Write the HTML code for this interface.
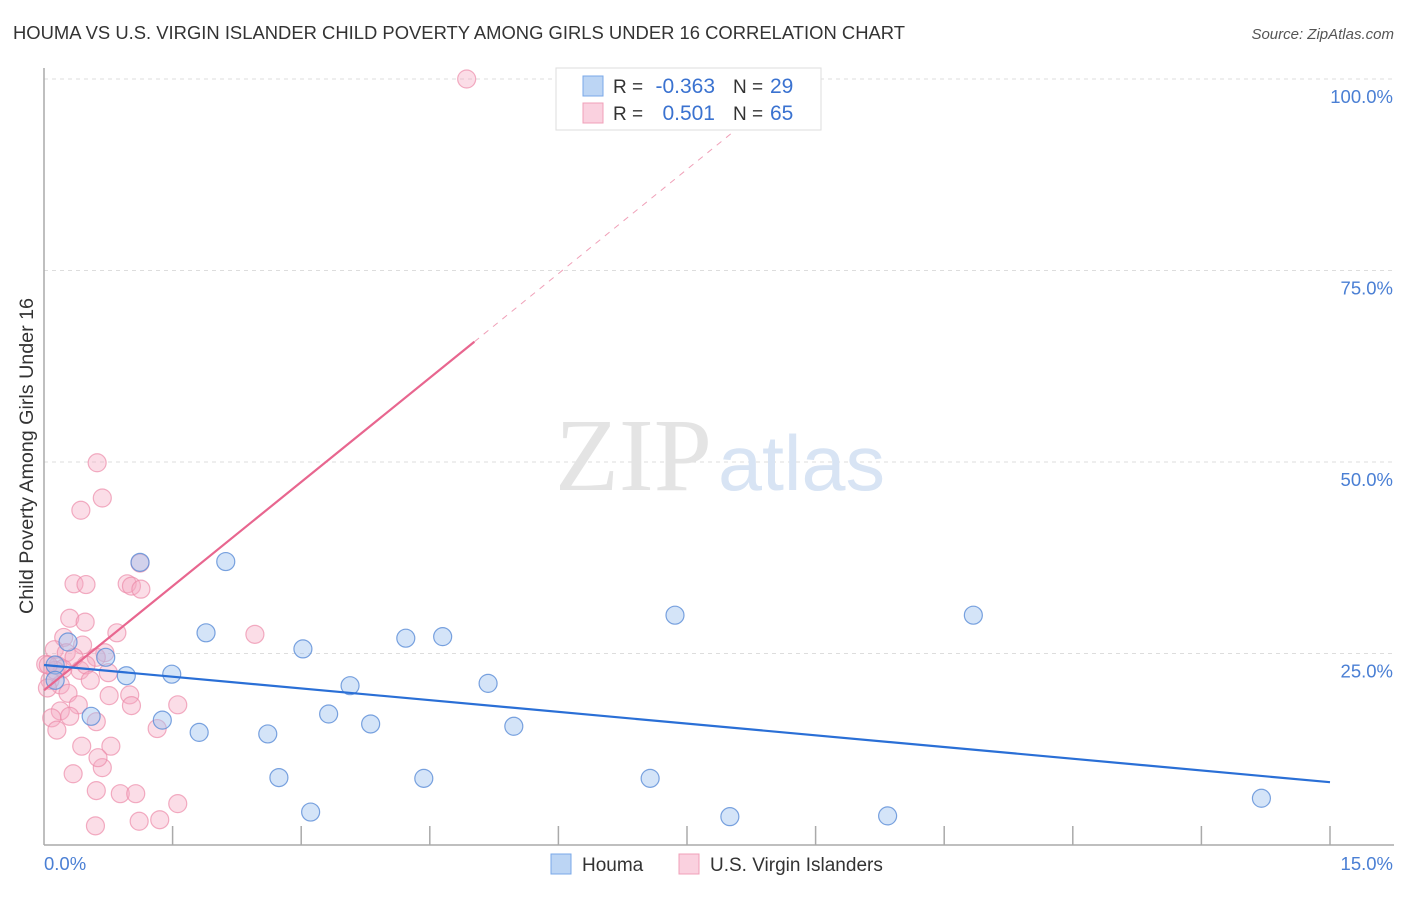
<!DOCTYPE html>
<html><head><meta charset="utf-8">
<style>
body{margin:0;background:#fff;font-family:"Liberation Sans",sans-serif;}
#wrap{position:relative;width:1406px;height:892px;}
</style></head>
<body>
<div id="wrap">
<svg id="svg" width="1406" height="892"></svg>
</div>
<script>
const blueX=[0.13,0.28,0.13,0.72,0.96,0.55,1.12,1.38,1.49,1.81,1.89,2.12,2.61,2.74,3.02,3.11,3.32,3.57,3.81,4.22,4.43,4.65,5.18,5.48,7.07,7.36,8.00,9.84,10.84,14.20];
const blueY=[23.5,26.5,21.5,24.5,22.1,16.8,36.9,16.3,22.3,14.7,27.7,37.0,14.5,8.8,25.6,4.3,17.1,20.8,15.8,27.0,8.7,27.2,21.1,15.5,8.7,30.0,3.7,3.8,30.0,6.1];
const pinkX=[4.93,0.62,0.68,0.43,1.12,0.35,0.49,0.97,1.02,1.13,0.30,0.48,0.85,2.46,0.23,0.45,0.12,0.26,0.71,0.35,0.61,0.02,0.16,0.22,0.42,0.49,0.75,0.07,0.19,0.54,0.04,0.28,0.76,1.00,1.56,1.02,0.40,0.19,0.09,0.30,0.61,1.32,0.15,0.44,0.78,0.34,0.68,0.63,0.61,0.89,1.07,1.56,0.60,1.11,1.35,0.13,0.05];
const pinkY=[100,49.9,45.3,43.7,36.8,34.1,34.0,34.1,33.8,33.4,29.6,29.1,27.7,27.5,27.1,26.1,25.5,25.1,25.1,24.5,24.5,23.6,23.4,23.0,22.8,23.5,22.5,21.5,20.9,21.5,20.5,19.8,19.5,19.6,18.3,18.2,18.3,17.5,16.6,16.8,16.1,15.2,15.0,12.9,12.9,9.3,10.1,11.4,7.1,6.7,6.7,5.4,2.5,3.1,3.3,22.8,23.5];
const blueLine=[[0,23.5],[15,8.2]];
const pinkSolid=[[0,20.2],[5.02,65.7]];
const pinkDash=[[5.02,65.7],[8.8,100]];
const yTicks=[25,50,75,100];
const xTickCount=10;

const X0=44,X1=1330,Y0=845,Y100=79;
const sx=v=>X0+(X1-X0)*v/15;
const sy=v=>Y0-(Y0-Y100)*v/100;
const NS="http://www.w3.org/2000/svg";
const svg=document.getElementById('svg');
function mk(t,a,p){const e=document.createElementNS(NS,t);for(const k in a)e.setAttribute(k,a[k]);(p||svg).appendChild(e);return e;}

let t=mk('text',{x:13,y:39,'font-size':18,fill:'#333',textLength:892,lengthAdjust:'spacingAndGlyphs'});t.textContent='HOUMA VS U.S. VIRGIN ISLANDER CHILD POVERTY AMONG GIRLS UNDER 16 CORRELATION CHART';

t=mk('text',{x:1394,y:39,'font-size':15,fill:'#555','font-style':'italic','text-anchor':'end'});t.textContent='Source: ZipAtlas.com';


yTicks.forEach(v=>{
 const g=mk('line',{x1:X0,x2:1394,y1:sy(v),y2:sy(v),stroke:'#ddd','stroke-dasharray':'4,4'});
 
 const l=mk('text',{x:1393,y:sy(v)+24,'font-size':18.5,fill:'#4a7fd4','text-anchor':'end'});l.textContent=v.toFixed(1)+'%';
 
});
let a=mk('line',{x1:X0,x2:X0,y1:68,y2:Y0,stroke:'#aaa','stroke-width':1.5});
a=mk('line',{x1:X0,x2:1394,y1:Y0,y2:Y0,stroke:'#aaa','stroke-width':1.5});
for(let i=1;i<=xTickCount;i++){const x=X0+(X1-X0)*i/xTickCount;const k=mk('line',{x1:x,x2:x,y1:826,y2:Y0,stroke:'#aaa','stroke-width':1.5});}
t=mk('text',{x:44,y:870,'font-size':18.5,fill:'#4a7fd4'});t.textContent='0.0%';
t=mk('text',{x:1393,y:870,'font-size':18.5,fill:'#4a7fd4','text-anchor':'end'});t.textContent='15.0%';
t=mk('text',{x:33,y:456,'font-size':19,fill:'#333','text-anchor':'middle',transform:'rotate(-90 33 456)',textLength:316,lengthAdjust:'spacingAndGlyphs'});t.textContent='Child Poverty Among Girls Under 16';


t=mk('text',{x:555,y:490,'font-size':104,fill:'#e4e4e4','font-family':'Liberation Serif,serif',textLength:157,lengthAdjust:'spacingAndGlyphs'});t.textContent='ZIP';
t=mk('text',{x:718,y:490,'font-size':78,fill:'#d8e4f4',textLength:167,lengthAdjust:'spacingAndGlyphs'});t.textContent='atlas';

pinkX.forEach((v,i)=>{const c=mk('circle',{cx:sx(v),cy:sy(pinkY[i]),r:9,fill:'rgba(246,170,195,0.4)',stroke:'rgba(236,140,170,0.7)','stroke-width':1.2});
 });
blueX.forEach((v,i)=>{const c=mk('circle',{cx:sx(v),cy:sy(blueY[i]),r:9,fill:'rgba(160,195,240,0.45)',stroke:'rgba(90,140,215,0.8)','stroke-width':1.2});
 });

let ln=mk('line',{x1:sx(pinkDash[0][0]),y1:sy(pinkDash[0][1]),x2:sx(pinkDash[1][0]),y2:sy(pinkDash[1][1]),stroke:'#f0a0b8','stroke-width':1,'stroke-dasharray':'6,6'});

ln=mk('line',{x1:sx(pinkSolid[0][0]),y1:sy(pinkSolid[0][1]),x2:sx(pinkSolid[1][0]),y2:sy(pinkSolid[1][1]),stroke:'#e8668f','stroke-width':2.2});

ln=mk('line',{x1:sx(blueLine[0][0]),y1:sy(blueLine[0][1]),x2:sx(blueLine[1][0]),y2:sy(blueLine[1][1]),stroke:'#2a6fd6','stroke-width':2.2});


const lg=mk('g',{});
mk('rect',{x:556,y:68,width:265,height:62,fill:'#fff',stroke:'#ddd'},lg);
[['rgba(160,195,240,0.7)','#7aa8e8','-0.363','29',86],['rgba(248,190,210,0.7)','#f0a0b8','0.501','65',113]].forEach(r=>{
 mk('rect',{x:583,y:r[4]-10,width:20,height:20,fill:r[0],stroke:r[1]},lg);
 let s=mk('text',{x:613,y:r[4]+7,'font-size':19,fill:'#333'},lg);s.textContent='R =';
 s=mk('text',{x:715,y:r[4]+7,'font-size':21,fill:'#3a72d0','text-anchor':'end'},lg);s.textContent=r[2];
 s=mk('text',{x:733,y:r[4]+7,'font-size':19,fill:'#333'},lg);s.textContent='N =';
 s=mk('text',{x:770,y:r[4]+7,'font-size':21,fill:'#3a72d0'},lg);s.textContent=r[3];
});

[['rgba(160,195,240,0.7)','#7aa8e8','Houma',551],['rgba(248,190,210,0.7)','#f0a0b8','U.S. Virgin Islanders',679]].forEach(r=>{
 const g=mk('g',{});
 mk('rect',{x:r[3],y:854,width:20,height:20,fill:r[0],stroke:r[1]},g);
 const s=mk('text',{x:r[3]+31,y:871,'font-size':19,fill:'#333'},g);s.textContent=r[2];
});
</script>
</body></html>
